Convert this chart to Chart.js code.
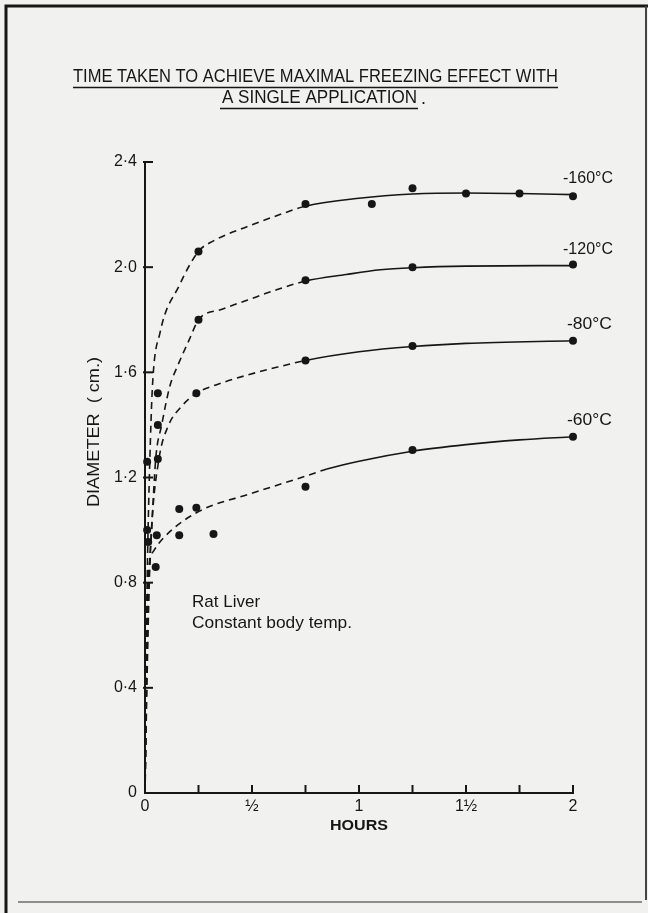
<!DOCTYPE html>
<html>
<head>
<meta charset="utf-8">
<script src="https://cdn.jsdelivr.net/npm/chart.js@4/dist/chart.umd.min.js"></script>
<style>
html, body { margin: 0; padding: 0; background: #f1f1ef; }
#wrap { position: relative; width: 648px; height: 913px; }
</style>
</head>
<body>
<div id="wrap"><canvas id="chart"></canvas></div>
<script>
'use strict';

// --- data (hours, diameter in cm) ---
const X_TICK_LABELS = ['0', '', '½', '', '1', '', '1½', '', '2'];
const Y_TICK_LABELS = ['0', '0·4', '0·8', '1·2', '1·6', '2·0', '2·4'];
const SERIES_LABELS = ['-160°C', '-120°C', '-80°C', '-60°C'];

const POINTS_160_X = [0.01, 0.06, 0.25, 0.75, 1.06, 1.25, 1.5, 1.75, 2];
const POINTS_160_Y = [1.26, 1.52, 2.06, 2.24, 2.24, 2.30, 2.28, 2.28, 2.27];
const POINTS_120_X = [0.06, 0.25, 0.75, 1.25, 2];
const POINTS_120_Y = [1.40, 1.80, 1.95, 2.00, 2.01];
const POINTS_80_X = [0.01, 0.06, 0.24, 0.75, 1.25, 2];
const POINTS_80_Y = [1.00, 1.27, 1.52, 1.645, 1.70, 1.72];
const POINTS_60_X = [0.015, 0.055, 0.05, 0.16, 0.16, 0.24, 0.32, 0.75, 1.25, 2];
const POINTS_60_Y = [0.955, 0.98, 0.86, 1.08, 0.98, 1.085, 0.985, 1.165, 1.305, 1.355];

// hand-drawn fitted curves (dashed up to the first long-time point)
const CURVE_160_X = [0, 0.005, 0.012, 0.022, 0.035, 0.07, 0.16, 0.25, 0.32, 0.48, 0.63, 0.75, 1.0, 1.25, 1.5, 1.75, 2];
const CURVE_160_Y = [0, 0.5, 0.9, 1.25, 1.55, 1.75, 1.93, 2.06, 2.1, 2.155, 2.2, 2.232, 2.262, 2.278, 2.282, 2.28, 2.276];
const CURVE_120_X = [0, 0.008, 0.018, 0.031, 0.05, 0.078, 0.117, 0.15, 0.21, 0.25, 0.36, 0.48, 0.6, 0.75, 0.94, 1.1, 1.25, 1.5, 2];
const CURVE_120_Y = [0, 0.45, 0.8, 1.0, 1.27, 1.4, 1.55, 1.62, 1.73, 1.80, 1.84, 1.875, 1.91, 1.947, 1.972, 1.99, 1.998, 2.004, 2.006];
const CURVE_80_X = [0, 0.01, 0.02, 0.03, 0.065, 0.108, 0.17, 0.24, 0.36, 0.48, 0.62, 0.75, 1.0, 1.25, 1.5, 2];
const CURVE_80_Y = [0, 0.45, 0.8, 1.0, 1.27, 1.395, 1.47, 1.52, 1.56, 1.59, 1.62, 1.645, 1.678, 1.698, 1.71, 1.72];
const CURVE_60_X = [0, 0.006, 0.015, 0.04, 0.086, 0.24, 0.5, 0.75, 0.85, 1.0, 1.25, 1.5, 1.75, 2];
const CURVE_60_Y = [0, 0.45, 0.82, 0.92, 0.97, 1.066, 1.14, 1.205, 1.232, 1.262, 1.30, 1.325, 1.343, 1.355];

const INK = '#161616';
const PAPER = '#f1f1ef';
const FONT = '"Liberation Sans", Arial, sans-serif';
const DASH = [7, 5];

function pairs(xs, ys) {
    return xs.map((x, i) => ({ x: x, y: ys[i] }));
}

function pointSet(xs, ys) {
    return {
        type: 'scatter',
        data: pairs(xs, ys),
        pointRadius: 4,
        pointHoverRadius: 4,
        pointBackgroundColor: INK,
        pointBorderWidth: 0,
        showLine: false,
        clip: false
    };
}

// one smooth curve; the segments left of dashUntil are drawn dashed
function curveSet(xs, ys, dashUntil) {
    return {
        type: 'line',
        data: pairs(xs, ys),
        borderColor: INK,
        borderWidth: 1.6,
        borderDash: [],
        segment: { borderDash: ctx => (ctx.p1.parsed.x <= dashUntil + 1e-9 ? DASH : []) },
        pointRadius: 0,
        cubicInterpolationMode: 'monotone',
        fill: false,
        clip: false
    };
}

// draw text squeezed/stretched to a given width (the lettering is condensed)
function fitText(ctx, text, x, y, width, font, align) {
    ctx.font = font;
    let w = ctx.measureText(text).width;
    ctx.save();
    ctx.translate(x, y);
    ctx.scale(width / w, 1);
    ctx.textAlign = align || 'left';
    ctx.fillText(text, 0, 0);
    ctx.restore();
}

const paperPlugin = {
    id: 'paper',
    beforeDraw(chart) {
        let ctx = chart.ctx;
        ctx.save();
        ctx.fillStyle = PAPER;
        ctx.fillRect(0, 0, chart.width, chart.height);
        // mount frame
        ctx.strokeStyle = INK;
        ctx.lineWidth = 3;
        ctx.beginPath();
        ctx.moveTo(6, chart.height);
        ctx.lineTo(6, 6);
        ctx.lineTo(chart.width, 6);
        ctx.stroke();
        ctx.lineWidth = 2;
        ctx.strokeStyle = '#444';
        ctx.beginPath();
        ctx.moveTo(646, 6);
        ctx.lineTo(646, 900);
        ctx.stroke();
        ctx.strokeStyle = '#8d8d8d';
        ctx.beginPath();
        ctx.moveTo(18, 902);
        ctx.lineTo(642, 902);
        ctx.stroke();
        ctx.restore();
    },
    afterDraw(chart) {
        let ctx = chart.ctx;
        let xs = chart.scales.x;
        let ys = chart.scales.y;
        let area = chart.chartArea;
        ctx.save();
        ctx.strokeStyle = INK;
        ctx.fillStyle = INK;
        ctx.lineWidth = 2;

        // ticks point into the plot
        ys.ticks.forEach(t => {
            if (t.value === 0) {
                return;
            }
            let py = ys.getPixelForValue(t.value);
            ctx.beginPath();
            ctx.moveTo(area.left - 2, py);
            ctx.lineTo(area.left + 8, py);
            ctx.stroke();
        });
        xs.ticks.forEach(t => {
            if (t.value === 0) {
                return;
            }
            let px = xs.getPixelForValue(t.value);
            ctx.beginPath();
            ctx.moveTo(px, area.bottom);
            ctx.lineTo(px, area.bottom - 8);
            ctx.stroke();
        });

        // title, underlined
        ctx.textBaseline = 'middle';
        fitText(ctx, 'TIME TAKEN TO ACHIEVE MAXIMAL FREEZING EFFECT WITH', 73, 77, 485, '18px ' + FONT);
        fitText(ctx, 'A SINGLE APPLICATION', 222, 98, 195, '18px ' + FONT);
        ctx.font = '18px ' + FONT;
        ctx.fillText('.', 421, 99);
        ctx.lineWidth = 1.6;
        ctx.beginPath();
        ctx.moveTo(73, 87.5);
        ctx.lineTo(558, 87.5);
        ctx.moveTo(220, 108.5);
        ctx.lineTo(418, 108.5);
        ctx.stroke();

        // series labels beside the curve ends
        let ends = [CURVE_160_Y, CURVE_120_Y, CURVE_80_Y, CURVE_60_Y];
        SERIES_LABELS.forEach((label, i) => {
            let ey = ends[i][ends[i].length - 1];
            let short = label.length < 6;
            let lx = xs.getPixelForValue(2) - 10 + (short ? 4 : 0);
            fitText(ctx, label, lx, ys.getPixelForValue(ey) - 16, short ? 45 : 50, '16px ' + FONT);
        });

        // note in the plot
        fitText(ctx, 'Rat Liver', xs.getPixelForValue(0.22), ys.getPixelForValue(0.726), 68, '17px ' + FONT);
        fitText(ctx, 'Constant body temp.', xs.getPixelForValue(0.22), ys.getPixelForValue(0.646), 160, '17px ' + FONT);

        // axis titles
        fitText(ctx, 'HOURS', (area.left + area.right) / 2, 826, 58, 'bold 15px ' + FONT, 'center');
        ctx.save();
        ctx.translate(95, 432);
        ctx.rotate(-Math.PI / 2);
        fitText(ctx, 'DIAMETER  ( cm.)', 0, 0, 150, '16px ' + FONT, 'center');
        ctx.restore();
        ctx.restore();
    }
};

new Chart(document.getElementById('chart'), {
    data: {
        datasets: [
            curveSet(CURVE_160_X, CURVE_160_Y, 0.75),
            curveSet(CURVE_120_X, CURVE_120_Y, 0.75),
            curveSet(CURVE_80_X, CURVE_80_Y, 0.75),
            curveSet(CURVE_60_X, CURVE_60_Y, 0.85),
            pointSet(POINTS_160_X, POINTS_160_Y),
            pointSet(POINTS_120_X, POINTS_120_Y),
            pointSet(POINTS_80_X, POINTS_80_Y),
            pointSet(POINTS_60_X, POINTS_60_Y)
        ]
    },
    options: {
        responsive: true,
        maintainAspectRatio: false,
        animation: false,
        events: [],
        layout: { padding: { top: 162, right: 75, bottom: 80, left: 0 } },
        plugins: { legend: { display: false }, tooltip: { enabled: false } },
        scales: {
            x: {
                type: 'linear',
                min: 0,
                max: 2,
                afterFit: scale => { scale.height = 40; },
                grid: { display: false, drawTicks: false },
                border: { display: true, color: INK, width: 2 },
                ticks: {
                    stepSize: 0.25,
                    autoSkip: false,
                    maxRotation: 0,
                    padding: 4,
                    color: INK,
                    font: { family: FONT, size: 16 },
                    callback: (value, index) => X_TICK_LABELS[index]
                }
            },
            y: {
                type: 'linear',
                min: 0,
                max: 2.4,
                afterFit: scale => { scale.width = 145; },
                grid: { display: false, drawTicks: false },
                border: { display: true, color: INK, width: 2 },
                ticks: {
                    stepSize: 0.4,
                    padding: 8,
                    color: INK,
                    font: { family: FONT, size: 16 },
                    callback: (value, index) => Y_TICK_LABELS[index]
                }
            }
        }
    },
    plugins: [paperPlugin]
});
</script>
</body>
</html>
